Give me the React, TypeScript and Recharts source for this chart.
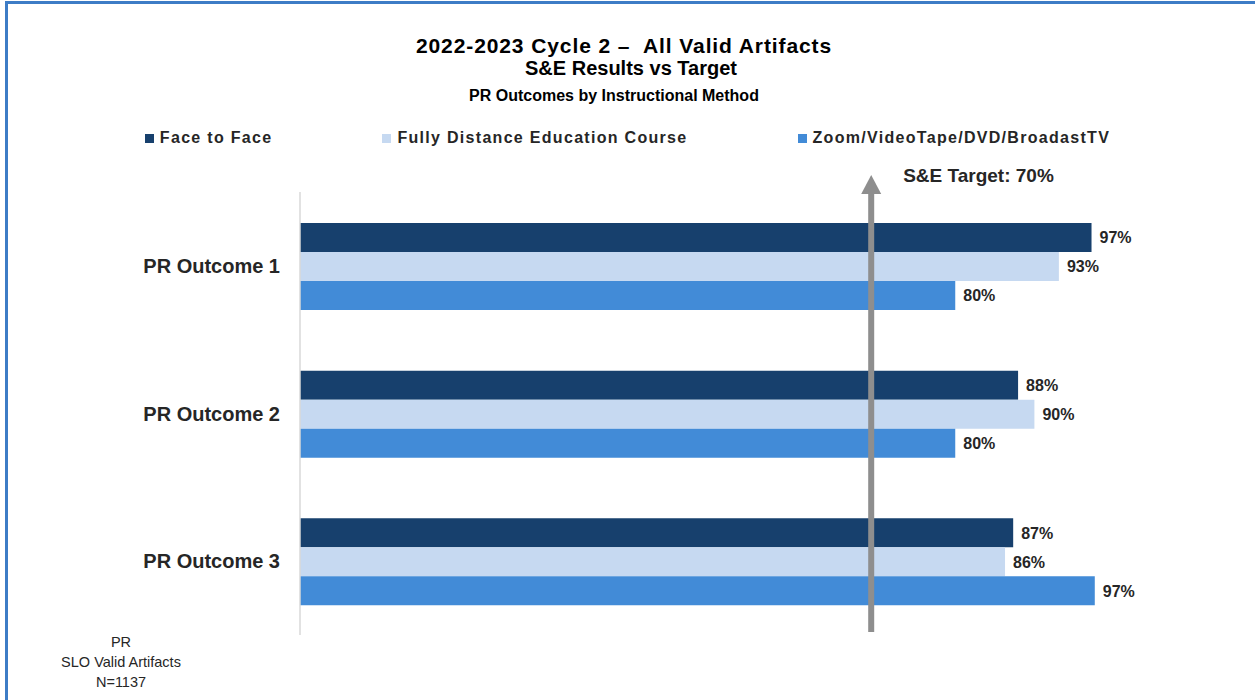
import { Bar, BarChart, LabelList, ReferenceLine, XAxis, YAxis } from 'recharts';

const outcomes = ['PR Outcome 1', 'PR Outcome 2', 'PR Outcome 3'];
const faceToFace = [97.0, 88.0, 87.4];
const fullyDistance = [93.0, 90.0, 86.4];
const zoomVideo = [80.3, 80.3, 97.4];
const target = 70;

const titleLines = ['2022-2023 Cycle 2 \u2013  All Valid Artifacts', 'S&E Results vs Target', 'PR Outcomes by Instructional Method'];
const footerLines = ['PR', 'SLO Valid Artifacts', 'N=1137'];

const series = [
  { key: 'f2f', name: 'Face to Face', color: '#17406d' },
  { key: 'fde', name: 'Fully Distance Education Course', color: '#c6d9f1' },
  { key: 'zoom', name: 'Zoom/VideoTape/DVD/BroadastTV', color: '#428bd7' },
];

const data = outcomes.map((name, i) => ({
  name,
  f2f: faceToFace[i],
  fde: fullyDistance[i],
  zoom: zoomVideo[i],
}));

const FONT = '"Liberation Sans", Arial, sans-serif';

// grey arrow at the target, with its label to the right
const TargetArrow = (props: any) => {
  const x = props.x1;
  const top = Math.min(props.y1, props.y2);
  const bottom = Math.max(props.y1, props.y2) - 3;
  const headBase = top + 2;
  const tip = top - 17;
  return (
    <g>
      <rect x={x - 3} y={headBase} width={6} height={bottom - headBase} fill="#8e8e8e" />
      <polygon points={`${x - 10},${headBase} ${x + 10},${headBase} ${x},${tip}`} fill="#8e8e8e" />
      <text x={x + 32} y={top - 10} fontSize={19} fontWeight="bold" fill="#262626" fontFamily={FONT}>
        S&amp;E Target: {target}%
      </text>
    </g>
  );
};

const App = () => {
  return (
    <div style={{ position: 'absolute', left: 0, top: 0, width: 1255, height: 700, background: '#fff', fontFamily: FONT }}>
      <div
        style={{
          position: 'absolute',
          left: 5,
          top: 1,
          width: 1250,
          height: 699,
          borderTop: '3px solid #3d7cc6',
          borderLeft: '3px solid #3d7cc6',
          boxSizing: 'border-box',
        }}
      />
      <BarChart
        width={1255}
        height={700}
        data={data}
        layout="vertical"
        margin={{ top: 192, right: 139, bottom: 65, left: 100 }}
        barCategoryGap="21%"
        barGap={0}
      >
        <XAxis type="number" domain={[0, 100]} hide />
        <YAxis
          type="category"
          dataKey="name"
          width={200}
          tickLine={false}
          tickSize={0}
          tickMargin={20}
          axisLine={{ stroke: '#d9d9d9', strokeWidth: 1.5 }}
          tick={{ fill: '#262626', fontSize: 20, fontWeight: 'bold', fontFamily: FONT }}
        />
        {series.map((s) => (
          <Bar key={s.key} dataKey={s.key} name={s.name} fill={s.color} isAnimationActive={false}>
            <LabelList
              dataKey={s.key}
              position="right"
              offset={8}
              formatter={(v: any) => `${Math.round(Number(v))}%`}
              style={{ fill: '#262626', fontSize: 16, fontWeight: 'bold', fontFamily: FONT }}
            />
          </Bar>
        ))}
        <ReferenceLine x={target} stroke="#8e8e8e" shape={TargetArrow} />
      </BarChart>

      <svg width={1255} height={700} style={{ position: 'absolute', left: 0, top: 0, pointerEvents: 'none' }}>
        <text x={624} y={53} textAnchor="middle" fontSize={21} fontWeight="bold" fill="#000" fontFamily={FONT} letterSpacing={0.9} style={{ whiteSpace: 'pre' }}>
          {titleLines[0]}
        </text>
        <text x={631} y={75} textAnchor="middle" fontSize={20} fontWeight="bold" fill="#000" fontFamily={FONT}>
          {titleLines[1]}
        </text>
        <text x={614} y={101} textAnchor="middle" fontSize={16} fontWeight="bold" fill="#000" fontFamily={FONT}>
          {titleLines[2]}
        </text>
        {footerLines.map((line, i) => (
          <text key={line} x={121} y={647 + i * 20} textAnchor="middle" fontSize={14.5} fill="#262626" fontFamily={FONT}>
            {line}
          </text>
        ))}
      </svg>

      <div
        style={{
          position: 'absolute',
          left: 0,
          top: 129,
          width: 1255,
          height: 18,
          display: 'flex',
          justifyContent: 'center',
          alignItems: 'center',
          gap: 110,
        }}
      >
        {series.map((s) => (
          <div key={s.key} style={{ display: 'flex', alignItems: 'center' }}>
            <span style={{ width: 9, height: 9, background: s.color, marginRight: 6 }} />
            <span style={{ fontSize: 16, fontWeight: 'bold', color: '#262626', letterSpacing: 1.3, lineHeight: '18px' }}>{s.name}</span>
          </div>
        ))}
      </div>
    </div>
  );
};

export default App;
